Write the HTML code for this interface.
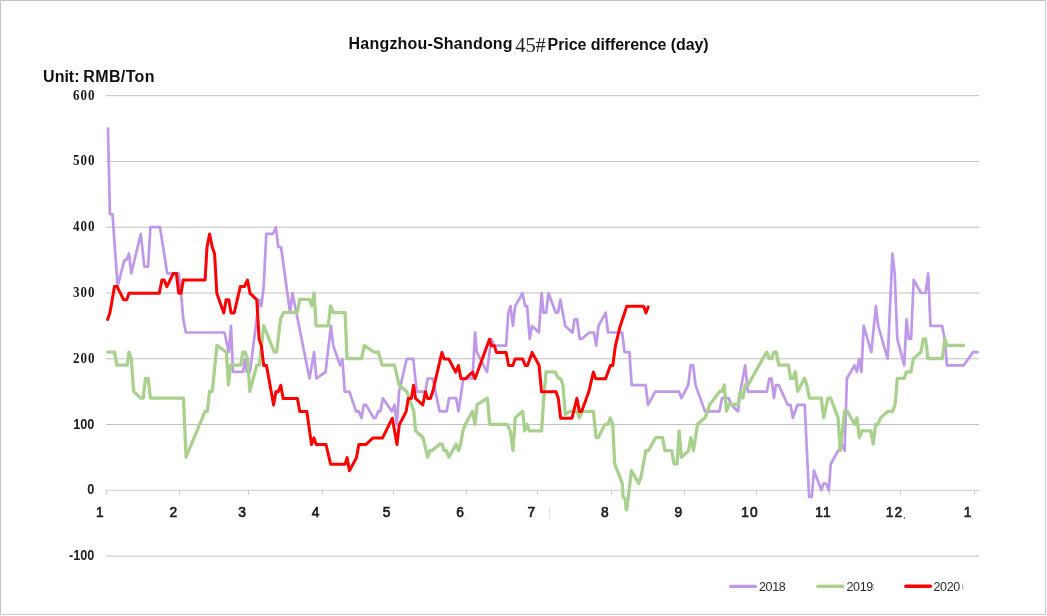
<!DOCTYPE html>
<html><head><meta charset="utf-8"><title>Hangzhou-Shandong 45# Price difference (day)</title>
<style>html,body{margin:0;padding:0;background:#fff;}body{width:1047px;height:616px;overflow:hidden;}svg{display:block;will-change:transform;}text{font-family:"Liberation Sans",sans-serif;}</style></head><body>
<svg width="1047" height="616" viewBox="0 0 1047 616">
<rect x="0" y="0" width="1047" height="616" fill="#fff"/>
<path d="M0.5 614.5V0.5H1045.5" fill="none" stroke="#c2c2c2" stroke-width="1"/>
<path d="M1045.5 0.5V614.5H0.5" fill="none" stroke="#cbcbcb" stroke-width="1"/>
<rect x="514.3" y="52.2" width="0.9" height="1.2" fill="#b5b5b5"/>
<text x="348.6" y="49.4" font-size="16" font-weight="bold" fill="#111" textLength="164" lengthAdjust="spacing">Hangzhou-Shandong</text>
<text x="515.2" y="51.8" font-size="20.5" fill="#222" style="font-family:'Liberation Serif',serif" textLength="30.6" lengthAdjust="spacing">45#</text>
<text x="547.6" y="50.4" font-size="16" font-weight="bold" fill="#111" textLength="161" lengthAdjust="spacing">Price difference (day)</text>
<text x="43.1" y="82.2" font-size="16" font-weight="bold" fill="#111">Unit:</text>
<text x="83.3" y="82.2" font-size="16" font-weight="bold" fill="#111" textLength="71.2" lengthAdjust="spacing">RMB/Ton</text>
<line x1="106.0" y1="95.68" x2="979.1" y2="95.68" stroke="#c0c0c0" stroke-width="1"/>
<line x1="106.0" y1="161.45" x2="979.1" y2="161.45" stroke="#c0c0c0" stroke-width="1"/>
<line x1="106.0" y1="227.22" x2="979.1" y2="227.22" stroke="#c0c0c0" stroke-width="1"/>
<line x1="106.0" y1="292.99" x2="979.1" y2="292.99" stroke="#c0c0c0" stroke-width="1"/>
<line x1="106.0" y1="358.76" x2="979.1" y2="358.76" stroke="#c0c0c0" stroke-width="1"/>
<line x1="106.0" y1="424.53" x2="979.1" y2="424.53" stroke="#c0c0c0" stroke-width="1"/>
<line x1="106.0" y1="556.07" x2="979.1" y2="556.07" stroke="#c0c0c0" stroke-width="1"/>
<line x1="106.0" y1="490.3" x2="979.1" y2="490.3" stroke="#cdcdcd" stroke-width="1"/>
<line x1="106.5" y1="490.3" x2="106.5" y2="494.80" stroke="#cdcdcd" stroke-width="1"/>
<line x1="179.5" y1="490.3" x2="179.5" y2="494.80" stroke="#cdcdcd" stroke-width="1"/>
<line x1="248.5" y1="490.3" x2="248.5" y2="494.80" stroke="#cdcdcd" stroke-width="1"/>
<line x1="322.5" y1="490.3" x2="322.5" y2="494.80" stroke="#cdcdcd" stroke-width="1"/>
<line x1="393.5" y1="490.3" x2="393.5" y2="494.80" stroke="#cdcdcd" stroke-width="1"/>
<line x1="466.5" y1="490.3" x2="466.5" y2="494.80" stroke="#cdcdcd" stroke-width="1"/>
<line x1="537.5" y1="490.3" x2="537.5" y2="494.80" stroke="#cdcdcd" stroke-width="1"/>
<line x1="611.5" y1="490.3" x2="611.5" y2="494.80" stroke="#cdcdcd" stroke-width="1"/>
<line x1="684.5" y1="490.3" x2="684.5" y2="494.80" stroke="#cdcdcd" stroke-width="1"/>
<line x1="756.5" y1="490.3" x2="756.5" y2="494.80" stroke="#cdcdcd" stroke-width="1"/>
<line x1="829.5" y1="490.3" x2="829.5" y2="494.80" stroke="#cdcdcd" stroke-width="1"/>
<line x1="900.5" y1="490.3" x2="900.5" y2="494.80" stroke="#cdcdcd" stroke-width="1"/>
<line x1="974.5" y1="490.3" x2="974.5" y2="494.80" stroke="#cdcdcd" stroke-width="1"/>
<text transform="translate(95.4,99.6) scale(0.88,1)" x="0" y="0" letter-spacing="1.1" font-size="14.8" font-weight="bold" text-anchor="end" fill="#1a1a1a" style="font-family:'Liberation Serif',serif">600</text>
<text transform="translate(95.4,165.4) scale(0.88,1)" x="0" y="0" letter-spacing="1.1" font-size="14.8" font-weight="bold" text-anchor="end" fill="#1a1a1a" style="font-family:'Liberation Serif',serif">500</text>
<text transform="translate(95.4,231.1) scale(0.88,1)" x="0" y="0" letter-spacing="1.1" font-size="14.8" font-weight="bold" text-anchor="end" fill="#1a1a1a" style="font-family:'Liberation Serif',serif">400</text>
<text transform="translate(95.4,296.9) scale(0.88,1)" x="0" y="0" letter-spacing="1.1" font-size="14.8" font-weight="bold" text-anchor="end" fill="#1a1a1a" style="font-family:'Liberation Serif',serif">300</text>
<text transform="translate(95.4,362.7) scale(0.88,1)" x="0" y="0" letter-spacing="1.1" font-size="14.8" font-weight="bold" text-anchor="end" fill="#1a1a1a" style="font-family:'Liberation Serif',serif">200</text>
<text transform="translate(94.4,428.8) scale(0.92,1)" x="0" y="0" font-size="13.8" font-weight="bold" text-anchor="end" fill="#1c1c1c">100</text>
<text transform="translate(94.4,493.7) scale(0.92,1)" x="0" y="0" font-size="13.8" font-weight="bold" text-anchor="end" fill="#1c1c1c">0</text>
<text transform="translate(94.4,560.4) scale(0.92,1)" x="0" y="0" font-size="13.8" font-weight="bold" text-anchor="end" fill="#1c1c1c">-100</text>
<text transform="translate(99.7,517.2) scale(0.93,1)" x="0" y="0" font-size="14.8" text-anchor="middle" fill="#1c1c1c" stroke="#1c1c1c" stroke-width="0.68">1</text>
<text transform="translate(173.2,517.2) scale(0.93,1)" x="0" y="0" font-size="14.8" text-anchor="middle" fill="#1c1c1c" stroke="#1c1c1c" stroke-width="0.68">2</text>
<text transform="translate(242.0,517.2) scale(0.93,1)" x="0" y="0" font-size="14.8" text-anchor="middle" fill="#1c1c1c" stroke="#1c1c1c" stroke-width="0.68">3</text>
<text transform="translate(315.5,517.2) scale(0.93,1)" x="0" y="0" font-size="14.8" text-anchor="middle" fill="#1c1c1c" stroke="#1c1c1c" stroke-width="0.68">4</text>
<text transform="translate(386.6,517.2) scale(0.93,1)" x="0" y="0" font-size="14.8" text-anchor="middle" fill="#1c1c1c" stroke="#1c1c1c" stroke-width="0.68">5</text>
<text transform="translate(460.1,517.2) scale(0.93,1)" x="0" y="0" font-size="14.8" text-anchor="middle" fill="#1c1c1c" stroke="#1c1c1c" stroke-width="0.68">6</text>
<text transform="translate(531.2,517.2) scale(0.93,1)" x="0" y="0" font-size="14.8" text-anchor="middle" fill="#1c1c1c" stroke="#1c1c1c" stroke-width="0.68">7</text>
<text transform="translate(604.7,517.2) scale(0.93,1)" x="0" y="0" font-size="14.8" text-anchor="middle" fill="#1c1c1c" stroke="#1c1c1c" stroke-width="0.68">8</text>
<text transform="translate(678.2,517.2) scale(0.93,1)" x="0" y="0" font-size="14.8" text-anchor="middle" fill="#1c1c1c" stroke="#1c1c1c" stroke-width="0.68">9</text>
<text transform="translate(749.9,517.2) scale(0.93,1)" x="0" y="0" font-size="14.8" text-anchor="middle" fill="#1c1c1c" stroke="#1c1c1c" stroke-width="0.68" letter-spacing="1.2">10</text>
<text transform="translate(823.4,517.2) scale(0.93,1)" x="0" y="0" font-size="14.8" text-anchor="middle" fill="#1c1c1c" stroke="#1c1c1c" stroke-width="0.68" letter-spacing="1.2">11</text>
<text transform="translate(894.5,517.2) scale(0.93,1)" x="0" y="0" font-size="14.8" text-anchor="middle" fill="#1c1c1c" stroke="#1c1c1c" stroke-width="0.68" letter-spacing="1.2">12</text>
<text transform="translate(967.5,517.2) scale(0.93,1)" x="0" y="0" font-size="14.8" text-anchor="middle" fill="#1c1c1c" stroke="#1c1c1c" stroke-width="0.68">1</text>
<line x1="549.5" y1="506" x2="549.5" y2="518.5" stroke="#e2e2e2" stroke-width="1"/>
<rect x="903.9" y="516.8" width="1" height="2.2" fill="#666"/><rect x="971.8" y="517.6" width="0.9" height="1" fill="#aaa"/><rect x="831.2" y="517.6" width="0.9" height="1" fill="#bbb"/><rect x="246" y="517.3" width="0.9" height="1" fill="#aaa"/><rect x="465" y="517.5" width="0.9" height="1" fill="#aaa"/>
<polyline fill="none" stroke="#bf98ea" stroke-width="2.7" stroke-linejoin="round" stroke-linecap="round" points="108.0,128.6 109.9,214.1 112.5,214.1 117.6,286.4 124.4,260.1 126.3,260.1 129.0,253.5 131.3,273.3 140.8,233.8 144.3,266.7 148.1,266.7 150.4,227.2 160.0,227.2 167.2,273.3 178.7,273.3 181.0,293.0 183.3,319.3 185.9,332.5 224.5,332.5 228.8,352.2 231.0,325.9 233.0,371.9 243.0,371.9 245.0,358.8 246.7,371.9 250.0,371.9 259.1,299.6 261.4,306.1 263.7,286.4 266.3,233.8 272.9,233.8 275.9,227.2 278.2,247.0 281.0,247.0 290.1,312.7 292.4,293.0 309.5,378.5 314.1,352.2 316.4,378.5 325.6,371.9 330.9,325.9 333.2,345.6 340.1,365.3 342.4,358.8 344.7,391.6 349.3,391.6 356.1,411.4 358.9,411.4 361.5,418.0 363.8,404.8 366.1,404.8 373.7,418.0 375.5,418.0 378.3,411.4 380.3,411.4 382.9,398.2 392.0,411.4 394.5,404.8 396.8,424.5 399.1,391.6 406.7,358.8 413.3,358.8 416.7,391.6 425.4,391.6 427.7,378.5 432.7,378.5 439.6,411.4 446.7,411.4 449.0,398.2 456.1,398.2 458.5,411.4 463.3,378.5 472.5,378.5 475.1,332.5 476.8,352.2 487.0,371.9 491.3,339.0 494.4,345.6 506.1,345.6 508.3,312.7 510.6,306.1 512.9,325.9 515.2,306.1 522.5,293.0 525.1,306.1 527.1,306.1 529.7,339.0 532.0,325.9 538.9,332.5 541.6,293.0 543.5,312.7 546.1,312.7 548.5,293.0 555.7,312.7 558.0,312.7 560.3,299.6 565.2,325.9 572.5,332.5 574.5,319.3 577.1,319.3 579.7,339.0 581.7,339.0 589.3,332.5 593.9,332.5 596.2,345.6 598.5,325.9 605.7,312.7 608.0,332.5 622.2,332.5 624.5,352.2 629.4,352.2 631.7,385.1 645.7,385.1 648.0,404.8 655.3,391.6 679.1,391.6 681.4,398.2 688.3,385.1 690.6,365.3 693.2,365.3 695.5,385.1 705.0,411.4 719.4,411.4 722.0,398.2 728.8,398.2 731.1,404.8 738.0,411.4 740.3,391.6 745.2,365.3 747.9,391.6 767.0,391.6 769.3,378.5 771.6,378.5 773.9,398.2 775.9,385.1 778.8,385.1 787.7,404.8 790.5,404.8 792.9,418.0 797.5,404.8 804.7,404.8 809.1,496.9 811.8,496.9 814.0,470.6 821.4,490.3 823.3,483.7 826.1,483.7 828.8,490.3 830.7,464.0 838.1,450.8 841.8,444.3 844.6,450.8 846.9,378.5 854.5,365.3 856.8,371.9 859.1,358.8 861.4,371.9 863.7,325.9 871.3,352.2 875.9,306.1 878.2,325.9 887.7,358.8 892.4,253.5 894.7,273.3 897.3,339.0 904.2,365.3 906.5,319.3 908.8,339.0 911.1,339.0 913.7,279.8 921.0,293.0 925.6,293.0 928.2,273.3 930.5,325.9 942.1,325.9 944.7,339.0 947.0,365.3 963.8,365.3 972.9,352.2 977.6,352.2"/>
<polyline fill="none" stroke="#a9d18e" stroke-width="3.25" stroke-linejoin="round" stroke-linecap="round" transform="translate(0,-0.15)" points="107.8,352.2 114.5,352.2 116.8,365.3 127.2,365.3 129.0,352.2 131.3,358.8 133.6,391.6 140.5,398.2 143.2,398.2 145.5,378.5 148.1,378.5 150.4,398.2 183.5,398.2 186.0,457.4 205.1,411.4 207.4,411.4 209.5,391.6 212.3,391.6 216.9,345.6 226.4,352.2 228.4,385.1 230.7,365.3 240.7,365.3 242.7,352.2 245.0,352.2 247.6,358.8 249.8,391.6 256.8,365.3 259.4,365.3 263.7,325.9 274.4,352.2 276.7,352.2 280.5,319.3 283.6,312.7 297.3,312.7 299.6,299.6 309.5,299.6 311.8,306.1 314.1,293.0 316.1,325.9 328.3,325.9 330.5,306.1 333.2,312.7 345.1,312.7 347.0,358.8 361.5,358.8 364.5,345.6 373.7,352.2 378.3,352.2 382.1,365.3 394.5,365.3 399.1,385.1 406.7,391.6 409.0,398.2 413.8,411.4 415.6,431.1 423.0,437.7 427.6,457.4 429.9,450.8 431.7,450.8 439.8,444.3 442.2,444.3 444.1,450.8 446.4,450.8 448.9,457.4 456.0,444.3 458.6,450.8 460.6,444.3 462.9,431.1 465.2,424.5 472.5,411.4 475.0,424.5 477.1,404.8 487.4,398.2 489.7,424.5 507.2,424.5 510.3,431.1 513.0,450.8 515.2,418.0 522.6,411.4 524.8,431.1 527.1,424.5 529.4,431.1 541.6,431.1 543.8,398.2 546.0,371.9 555.2,371.9 558.3,378.5 560.6,378.5 562.9,385.1 565.3,414.7 570.0,411.4 576.8,411.4 579.4,418.0 582.0,411.4 593.4,411.4 596.1,437.7 598.4,437.7 604.9,424.5 608.0,424.5 610.2,418.0 612.7,424.5 614.7,464.0 622.3,483.7 623.1,496.9 625.3,499.5 626.2,510.0 626.8,510.0 631.4,470.6 638.7,483.7 641.0,477.1 645.9,450.8 648.5,450.8 655.7,437.7 662.6,437.7 664.9,450.8 671.8,450.8 674.0,464.0 677.1,464.0 679.1,431.1 681.4,457.4 688.6,450.8 690.9,437.7 693.5,450.8 697.5,424.5 705.1,418.0 709.7,404.8 719.7,391.6 722.0,391.6 724.2,385.1 726.5,411.4 728.8,404.8 738.0,404.8 740.3,391.6 742.9,398.2 745.2,385.1 748.0,385.1 766.6,352.2 769.3,358.8 771.6,358.8 773.9,352.2 776.2,352.2 778.8,365.3 788.4,365.3 790.7,378.5 793.0,378.5 795.3,371.9 797.6,391.6 804.5,378.5 806.8,385.1 809.4,398.2 821.3,398.2 823.6,418.0 828.0,398.2 830.7,398.2 838.1,418.0 840.3,450.8 844.6,411.4 847.3,411.4 854.7,424.5 857.0,418.0 859.4,437.7 862.1,431.1 870.8,431.1 873.2,444.3 875.6,424.5 877.9,424.5 880.6,418.0 888.0,411.4 892.7,411.4 895.1,404.8 897.3,378.5 904.2,378.5 906.5,371.9 911.1,371.9 913.3,358.8 921.0,352.2 923.3,339.0 925.6,339.0 927.9,358.8 942.4,358.8 944.7,339.0 947.0,345.6 963.7,345.6"/>
<polyline fill="none" stroke="#ff0000" stroke-width="3" stroke-linejoin="round" stroke-linecap="round" transform="translate(0,0.2)" points="107.6,319.3 109.9,312.7 114.5,286.4 117.1,286.4 123.7,299.6 126.7,299.6 129.0,293.0 159.3,293.0 161.9,279.8 164.2,279.8 166.8,286.4 173.3,273.3 176.4,273.3 178.7,293.0 181.0,293.0 183.3,279.8 205.1,279.8 207.0,247.0 209.6,233.8 212.3,247.0 214.6,253.5 216.8,293.0 223.8,312.7 226.1,299.6 228.8,299.6 231.1,312.7 234.2,312.7 240.3,286.4 244.4,286.4 247.5,279.8 250.0,293.0 256.8,299.6 259.1,339.0 261.4,345.6 263.7,365.3 266.5,365.3 273.6,404.8 275.9,391.6 278.2,391.6 280.8,385.1 283.1,398.2 297.4,398.2 299.8,411.4 306.9,411.4 311.5,444.3 313.9,437.7 316.2,444.3 326.0,444.3 330.6,464.0 345.1,464.0 347.1,457.4 349.4,470.6 356.5,457.4 358.8,444.3 366.0,444.3 373.0,437.7 382.6,437.7 392.3,418.0 397.0,444.3 399.3,424.5 406.1,411.4 408.3,398.2 411.3,398.2 413.6,385.1 415.5,398.2 422.8,404.8 425.4,391.6 427.7,398.2 430.4,398.2 432.7,391.6 441.9,352.2 444.2,358.8 448.8,358.8 455.6,371.9 458.4,365.3 461.0,378.5 465.6,378.5 472.5,371.9 475.0,378.5 489.5,339.0 491.5,345.6 494.4,345.6 496.4,352.2 506.1,352.2 508.6,365.3 512.8,365.3 515.1,358.8 522.7,358.8 525.2,365.3 527.5,365.3 532.1,352.2 539.1,365.3 541.5,391.6 556.0,391.6 558.3,398.2 560.6,418.0 572.0,418.0 576.9,398.2 579.4,411.4 581.6,411.4 588.8,391.6 593.4,371.9 595.7,378.5 605.6,378.5 610.4,365.3 612.8,365.3 615.4,345.6 620.0,326.5 626.8,306.1 643.6,306.1 645.9,312.7 648.2,306.8"/>
<line x1="730.5" y1="586.4" x2="755.5" y2="586.4" stroke="#bf98ea" stroke-width="3.1" stroke-linecap="round"/>
<text x="759" y="591.2" font-size="12.5" fill="#2a2a2a" textLength="26.7" lengthAdjust="spacing">2018</text>
<line x1="817.8" y1="586.4" x2="842.8" y2="586.3" stroke="#a9d18e" stroke-width="3.4" stroke-linecap="round"/>
<text x="846.5" y="591.2" font-size="12.5" fill="#2a2a2a" textLength="26.7" lengthAdjust="spacing">2019</text>
<line x1="905.8" y1="586.3" x2="930.4" y2="586.3" stroke="#ff0000" stroke-width="3.4" stroke-linecap="round"/>
<rect x="873.2" y="584" width="1" height="1.6" fill="#9a9a9a"/><rect x="873.2" y="588.3" width="1" height="1.6" fill="#9a9a9a"/>
<rect x="962.1" y="583.6" width="1" height="4" fill="#b0b0b0"/><rect x="961.7" y="587.2" width="1.6" height="1" fill="#a0a0a0"/><rect x="962.5" y="588" width="0.9" height="2" fill="#b0b0b0"/>
<text x="933.5" y="591.2" font-size="12.5" fill="#2a2a2a" textLength="26.7" lengthAdjust="spacing">2020</text>
</svg></body></html>
